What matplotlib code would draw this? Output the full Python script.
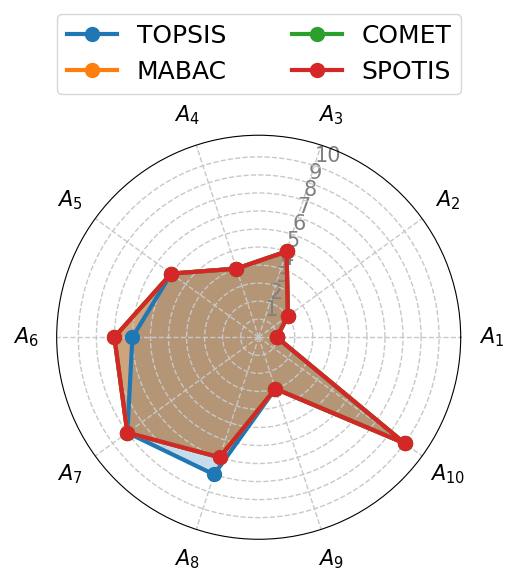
import numpy as np
import matplotlib
matplotlib.use('Agg')
import matplotlib.pyplot as plt

# Rankings of the alternatives
alternatives = ['$A_{1}$', '$A_{2}$', '$A_{3}$', '$A_{4}$', '$A_{5}$',
                '$A_{6}$', '$A_{7}$', '$A_{8}$', '$A_{9}$', '$A_{10}$']
methods = ['TOPSIS', 'MABAC', 'COMET', 'SPOTIS']
topsis = [1, 2, 5, 4, 6, 7, 9, 8, 3, 10]
mabac = [1, 2, 5, 4, 6, 8, 9, 7, 3, 10]
comet = [1, 2, 5, 4, 6, 8, 9, 7, 3, 10]
spotis = [1, 2, 5, 4, 6, 8, 9, 7, 3, 10]
rank_ticks = list(range(1, 11))

rankings = [topsis, mabac, comet, spotis]

n = len(alternatives)
angles = np.linspace(0, 2 * np.pi, n, endpoint=False)
angles_closed = np.concatenate([angles, angles[:1]])

fig = plt.figure(figsize=(5.18, 5.84), dpi=100)
ax = fig.add_axes([0.1094, 0.0765, 0.78, 0.692], projection='polar')

for name, vals in zip(methods, rankings):
    v = np.concatenate([vals, vals[:1]])
    line, = ax.plot(angles_closed, v, '-o', linewidth=3, markersize=10, label=name)
    ax.fill(angles_closed, v, alpha=0.25, color=line.get_color())

ax.set_xticks(angles)
ax.set_xticklabels(alternatives, fontsize=15)
ax.tick_params(axis='x', pad=12)
ax.set_ylim(0, 11.2)
ax.set_yticks(rank_ticks)
ax.set_yticklabels([str(t) for t in rank_ticks], fontsize=15, color='grey')
ax.set_rlabel_position(72)
ax.grid(True, linestyle='--', color='#c8c8c8', linewidth=1)

fig.legend(loc='upper center', bbox_to_anchor=(0.5, 0.998), ncol=2, fontsize=18,
           columnspacing=2.6)

plt.savefig('out.png', dpi=100)
